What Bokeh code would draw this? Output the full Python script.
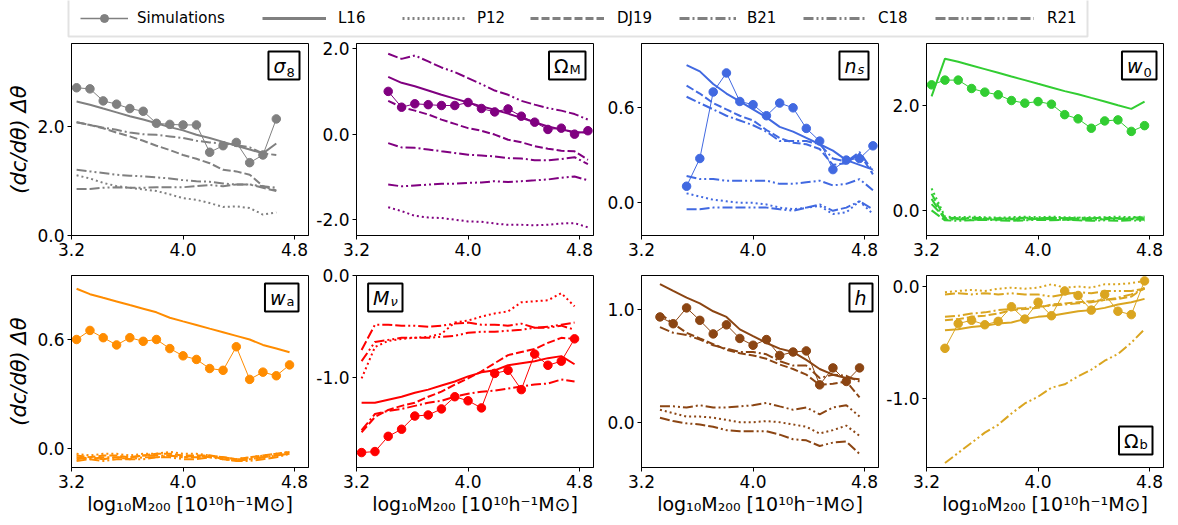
from bokeh.plotting import figure
from bokeh.layouts import column, row
from bokeh.models import (Range1d, FixedTicker, PrintfTickFormatter, Label,
                          Legend, LegendItem, BoxAnnotation)
from bokeh.embed import file_html
from bokeh.resources import INLINE

FONT = "DejaVu Sans"

# halo-mass bins (log10 M200 [1e10 h^-1 Msun])
LOG_M200 = [3.236, 3.332, 3.427, 3.523, 3.618, 3.714, 3.809, 3.905, 4.000,
            4.096, 4.191, 4.287, 4.382, 4.478, 4.573, 4.669, 4.764, 4.860]
X_TICKS = [3.2, 4.0, 4.8]

MODELS = ["L16", "P12", "DJ19", "B21", "C18", "R21"]

# ---- sigma_8 ----
SIGMA8_START = 0
SIGMA8_SIM = [2.70, 2.68, 2.46, 2.40, 2.32, 2.27, 2.05, 2.03, 2.02, 2.02, 1.52, 1.64, 1.70, 1.33, 1.47, 2.13]
SIGMA8_L16 = [2.45, 2.39, 2.32, 2.25, 2.18, 2.12, 2.05, 1.98, 1.92, 1.84, 1.78, 1.71, 1.64, 1.57, 1.50, 1.68]
SIGMA8_P12 = [1.10, 1.04, 0.96, 0.90, 0.87, 0.84, 0.81, 0.75, 0.68, 0.65, 0.59, 0.52, 0.53, 0.50, 0.38, 0.42]
SIGMA8_DJ19 = [2.07, 2.02, 1.96, 1.88, 1.81, 1.73, 1.64, 1.56, 1.47, 1.40, 1.32, 1.20, 1.17, 1.11, 0.90, 0.82]
SIGMA8_B21 = [2.07, 2.02, 1.97, 1.93, 1.88, 1.85, 1.84, 1.81, 1.78, 1.73, 1.70, 1.68, 1.65, 1.61, 1.50, 1.47]
SIGMA8_C18 = [1.20, 1.17, 1.14, 1.11, 1.09, 1.08, 1.06, 1.04, 1.01, 0.99, 0.98, 0.95, 0.93, 0.93, 0.90, 0.87]
SIGMA8_R21 = [0.85, 0.85, 0.87, 0.88, 0.87, 0.87, 0.88, 0.88, 0.88, 0.90, 0.92, 0.90, 0.93, 0.93, 0.87, 0.81]
SIGMA8_YTICKS = [0.0, 2.0]

# ---- Omega_M ----
OMEGAM_START = 2
OMEGAM_SIM = [1.00, 0.63, 0.71, 0.69, 0.67, 0.67, 0.74, 0.60, 0.52, 0.59, 0.42, 0.28, 0.11, 0.14, 0.00, 0.08]
OMEGAM_L16 = [1.34, 1.20, 1.12, 1.02, 0.92, 0.83, 0.74, 0.65, 0.57, 0.48, 0.38, 0.28, 0.18, 0.11, 0.05, 0.03]
OMEGAM_P12 = [-1.71, -1.80, -1.91, -1.95, -1.96, -2.00, -2.04, -2.05, -2.09, -2.12, -2.12, -2.13, -2.12, -2.09, -2.08, -2.18]
OMEGAM_DJ19 = [0.78, 0.63, 0.55, 0.46, 0.34, 0.24, 0.14, 0.08, -0.01, -0.13, -0.19, -0.28, -0.34, -0.39, -0.40, -0.60]
OMEGAM_B21 = [-0.21, -0.31, -0.32, -0.36, -0.40, -0.44, -0.48, -0.50, -0.52, -0.56, -0.57, -0.61, -0.61, -0.58, -0.54, -0.70]
OMEGAM_C18 = [-1.18, -1.22, -1.20, -1.18, -1.16, -1.16, -1.14, -1.13, -1.10, -1.12, -1.10, -1.08, -1.06, -1.02, -0.99, -1.08]
OMEGAM_R21 = [1.88, 1.76, 1.84, 1.70, 1.56, 1.45, 1.31, 1.17, 1.02, 0.92, 0.78, 0.69, 0.61, 0.55, 0.47, 0.34]
OMEGAM_YTICKS = [-2.0, 0.0, 2.0]

# ---- n_s ----
NS_START = 3
NS_SIM = [0.105, 0.28, 0.70, 0.82, 0.64, 0.62, 0.55, 0.63, 0.60, 0.47, 0.39, 0.21, 0.27, 0.28, 0.36]
NS_L16 = [0.87, 0.83, 0.75, 0.69, 0.64, 0.59, 0.54, 0.48, 0.45, 0.41, 0.37, 0.33, 0.27, 0.24, 0.21]
NS_P12 = [0.06, 0.04, 0.02, 0.01, 0.00, 0.00, -0.01, -0.03, -0.04, -0.03, -0.02, -0.07, -0.06, 0.01, -0.07]
NS_DJ19 = [0.74, 0.69, 0.63, 0.59, 0.55, 0.52, 0.46, 0.41, 0.38, 0.37, 0.34, 0.24, 0.25, 0.31, 0.18]
NS_B21 = [0.67, 0.63, 0.59, 0.55, 0.52, 0.49, 0.45, 0.39, 0.39, 0.39, 0.37, 0.28, 0.26, 0.32, 0.20]
NS_C18 = [0.17, 0.15, 0.15, 0.14, 0.14, 0.14, 0.14, 0.12, 0.12, 0.13, 0.14, 0.11, 0.12, 0.15, 0.08]
NS_R21 = [-0.04, -0.04, -0.03, -0.03, -0.03, -0.03, -0.03, -0.04, -0.05, -0.03, -0.01, -0.05, -0.03, 0.01, -0.04]
NS_YTICKS = [0.0, 0.6]

# ---- w_0 ----
W0_START = 0
W0_SIM = [2.40, 2.49, 2.49, 2.33, 2.26, 2.21, 2.10, 2.05, 2.08, 2.03, 1.83, 1.75, 1.57, 1.71, 1.73, 1.51, 1.62]
W0_L16 = [2.18, 2.90, 2.84, 2.77, 2.70, 2.63, 2.56, 2.49, 2.42, 2.35, 2.28, 2.22, 2.15, 2.08, 2.01, 1.94, 2.08]
W0_P12 = [0.42, -0.12, -0.13, -0.12, -0.13, -0.14, -0.13, -0.12, -0.13, -0.12, -0.13, -0.14, -0.13, -0.13, -0.12, -0.13, -0.12]
W0_DJ19 = [0.32, -0.15, -0.16, -0.15, -0.16, -0.15, -0.16, -0.15, -0.16, -0.14, -0.15, -0.16, -0.15, -0.14, -0.15, -0.16, -0.15]
W0_B21 = [0.22, -0.18, -0.17, -0.18, -0.17, -0.18, -0.17, -0.18, -0.16, -0.17, -0.18, -0.17, -0.18, -0.17, -0.16, -0.17, -0.18]
W0_C18 = [0.12, -0.14, -0.15, -0.14, -0.15, -0.16, -0.15, -0.14, -0.15, -0.14, -0.15, -0.14, -0.15, -0.16, -0.15, -0.14, -0.13]
W0_R21 = [0.00, -0.19, -0.20, -0.19, -0.18, -0.19, -0.20, -0.19, -0.18, -0.19, -0.18, -0.19, -0.20, -0.19, -0.20, -0.19, -0.20]
W0_YTICKS = [0.0, 2.0]

# ---- w_a ----
WA_START = 0
WA_SIM = [0.60, 0.65, 0.61, 0.57, 0.61, 0.59, 0.60, 0.55, 0.51, 0.49, 0.44, 0.43, 0.56, 0.38, 0.42, 0.40, 0.46]
WA_L16 = [0.88, 0.85, 0.83, 0.81, 0.79, 0.77, 0.75, 0.72, 0.70, 0.68, 0.66, 0.64, 0.62, 0.60, 0.57, 0.55, 0.53]
WA_P12 = [-0.03, -0.04, -0.03, -0.03, -0.04, -0.03, -0.03, -0.02, -0.03, -0.03, -0.04, -0.05, -0.06, -0.05, -0.04, -0.03, -0.02]
WA_DJ19 = [-0.04, -0.05, -0.04, -0.04, -0.05, -0.04, -0.03, -0.03, -0.04, -0.04, -0.04, -0.05, -0.06, -0.05, -0.04, -0.03, -0.02]
WA_B21 = [-0.05, -0.06, -0.05, -0.05, -0.05, -0.04, -0.04, -0.04, -0.05, -0.04, -0.05, -0.05, -0.06, -0.06, -0.05, -0.04, -0.03]
WA_C18 = [-0.06, -0.05, -0.06, -0.05, -0.06, -0.05, -0.05, -0.04, -0.05, -0.05, -0.04, -0.06, -0.07, -0.06, -0.05, -0.04, -0.03]
WA_R21 = [-0.07, -0.06, -0.07, -0.06, -0.06, -0.06, -0.05, -0.05, -0.06, -0.06, -0.05, -0.06, -0.07, -0.07, -0.06, -0.05, -0.03]
WA_YTICKS = [0.0, 0.6]

# ---- M_nu ----
MNU_START = 0
MNU_SIM = [-1.74, -1.73, -1.58, -1.51, -1.38, -1.37, -1.31, -1.19, -1.23, -1.30, -0.96, -0.93, -1.12, -0.77, -0.88, -0.84, -0.62]
MNU_L16 = [-1.25, -1.25, -1.22, -1.19, -1.15, -1.12, -1.08, -1.04, -0.99, -0.95, -0.93, -0.88, -0.86, -0.84, -0.81, -0.79, -0.87]
MNU_P12 = [-1.01, -0.70, -0.64, -0.62, -0.61, -0.60, -0.57, -0.46, -0.44, -0.40, -0.37, -0.35, -0.26, -0.25, -0.24, -0.17, -0.30]
MNU_DJ19 = [-1.54, -1.39, -1.32, -1.28, -1.25, -1.19, -1.14, -1.07, -1.01, -0.94, -0.86, -0.78, -0.75, -0.72, -0.66, -0.61, -0.62]
MNU_B21 = [-1.52, -1.36, -1.33, -1.31, -1.28, -1.25, -1.23, -1.19, -1.16, -1.14, -1.13, -1.11, -1.09, -1.07, -1.06, -1.02, -1.04]
MNU_C18 = [-0.84, -0.65, -0.63, -0.61, -0.61, -0.61, -0.60, -0.59, -0.56, -0.55, -0.55, -0.54, -0.53, -0.51, -0.51, -0.49, -0.53]
MNU_R21 = [-0.73, -0.48, -0.48, -0.49, -0.49, -0.50, -0.49, -0.47, -0.46, -0.48, -0.48, -0.49, -0.47, -0.51, -0.50, -0.48, -0.46]
MNU_YTICKS = [-1.0, 0.0]

# ---- h ----
H_START = 1
H_SIM = [0.93, 0.87, 1.01, 0.90, 0.78, 0.86, 0.74, 0.68, 0.73, 0.59, 0.62, 0.63, 0.33, 0.48, 0.36, 0.48]
H_L16 = [1.22, 1.16, 1.10, 1.05, 0.98, 0.93, 0.82, 0.76, 0.70, 0.65, 0.62, 0.55, 0.47, 0.42, 0.39, 0.38]
H_P12 = [0.11, 0.08, 0.05, 0.05, 0.04, 0.02, 0.00, 0.00, 0.01, 0.00, -0.02, -0.04, -0.10, -0.07, -0.03, -0.12]
H_DJ19 = [0.96, 0.87, 0.79, 0.74, 0.69, 0.64, 0.61, 0.59, 0.56, 0.51, 0.47, 0.42, 0.33, 0.34, 0.36, 0.22]
H_B21 = [0.84, 0.79, 0.77, 0.73, 0.68, 0.65, 0.62, 0.62, 0.60, 0.54, 0.50, 0.50, 0.39, 0.42, 0.41, 0.36]
H_C18 = [0.14, 0.14, 0.13, 0.15, 0.13, 0.13, 0.14, 0.15, 0.17, 0.14, 0.11, 0.13, 0.07, 0.13, 0.15, 0.05]
H_R21 = [0.04, 0.01, -0.01, -0.02, -0.04, -0.07, -0.08, -0.08, -0.08, -0.11, -0.15, -0.16, -0.21, -0.18, -0.17, -0.28]
H_YTICKS = [0.0, 1.0]

# ---- Omega_b ----
OMEGAB_START = 1
OMEGAB_SIM = [-0.55, -0.33, -0.30, -0.34, -0.31, -0.18, -0.29, -0.14, -0.26, -0.04, -0.08, -0.21, -0.07, -0.22, -0.25, 0.05]
OMEGAB_L16 = [-0.39, -0.38, -0.36, -0.35, -0.33, -0.32, -0.29, -0.27, -0.26, -0.24, -0.22, -0.21, -0.19, -0.16, -0.14, -0.11]
OMEGAB_P12 = [-0.05, -0.04, -0.03, -0.04, -0.02, -0.01, -0.02, -0.01, 0.02, -0.01, 0.00, -0.01, 0.02, 0.02, 0.03, 0.05]
OMEGAB_DJ19 = [-0.30, -0.29, -0.27, -0.26, -0.24, -0.21, -0.20, -0.19, -0.16, -0.15, -0.14, -0.13, -0.12, -0.11, -0.09, -0.01]
OMEGAB_B21 = [-0.27, -0.26, -0.24, -0.23, -0.21, -0.20, -0.19, -0.18, -0.17, -0.16, -0.15, -0.14, -0.12, -0.10, -0.07, -0.02]
OMEGAB_C18 = [-1.57, -1.48, -1.39, -1.30, -1.23, -1.13, -1.04, -0.98, -0.90, -0.87, -0.80, -0.74, -0.66, -0.60, -0.50, -0.38]
OMEGAB_R21 = [-0.07, -0.06, -0.07, -0.06, -0.07, -0.06, -0.07, -0.07, -0.09, -0.07, -0.05, -0.06, -0.04, -0.04, -0.04, -0.02]
OMEGAB_YTICKS = [-1.0, 0.0]

DASHES = {"L16": "solid", "P12": "2 3", "DJ19": "8 3", "B21": "10 3 2 3",
          "C18": "10 3 2 3 2 3", "R21": "10 3 10 3 2 3 2 3"}

# tag = (symbol, subscript, symbol style, subscript style, right padding, box right, box top)
PANELS = [
    dict(color="#808080", start=SIGMA8_START, sim=SIGMA8_SIM,
         models=[SIGMA8_L16, SIGMA8_P12, SIGMA8_DJ19, SIGMA8_B21, SIGMA8_C18, SIGMA8_R21],
         ylim=(-0.003, 3.51), yticks=SIGMA8_YTICKS,
         tag=("σ", "8", "italic", "normal", 14, 228, 184)),
    dict(color="#800080", start=OMEGAM_START, sim=OMEGAM_SIM,
         models=[OMEGAM_L16, OMEGAM_P12, OMEGAM_DJ19, OMEGAM_B21, OMEGAM_C18, OMEGAM_R21],
         ylim=(-2.37, 2.12), yticks=OMEGAM_YTICKS,
         tag=("Ω", "M", "normal", "normal", 17, 229, 184)),
    dict(color="#4169E1", start=NS_START, sim=NS_SIM,
         models=[NS_L16, NS_P12, NS_DJ19, NS_B21, NS_C18, NS_R21],
         ylim=(-0.206, 1.006), yticks=NS_YTICKS,
         tag=("n", "s", "italic", "italic", 12, 227, 184)),
    dict(color="#32CD32", start=W0_START, sim=W0_SIM,
         models=[W0_L16, W0_P12, W0_DJ19, W0_B21, W0_C18, W0_R21],
         ylim=(-0.48, 3.19), yticks=W0_YTICKS,
         tag=("w", "0", "italic", "normal", 14, 230, 184)),
    dict(color="#FF8C00", start=WA_START, sim=WA_SIM,
         models=[WA_L16, WA_P12, WA_DJ19, WA_B21, WA_C18, WA_R21],
         ylim=(-0.106, 0.953), yticks=WA_YTICKS,
         tag=("w", "a", "italic", "normal", 13, 227, 184)),
    dict(color="#FF0000", start=MNU_START, sim=MNU_SIM,
         models=[MNU_L16, MNU_P12, MNU_DJ19, MNU_B21, MNU_C18, MNU_R21],
         ylim=(-1.887, 0.004), yticks=MNU_YTICKS,
         tag=("M", "ν", "italic", "italic", 13, 46, 184)),
    dict(color="#8B4513", start=H_START, sim=H_SIM,
         models=[H_L16, H_P12, H_DJ19, H_B21, H_C18, H_R21],
         ylim=(-0.40, 1.296), yticks=H_YTICKS,
         tag=("h", "", "italic", "normal", 6, 231, 184)),
    dict(color="#DAA520", start=OMEGAB_START, sim=OMEGAB_SIM,
         models=[OMEGAB_L16, OMEGAB_P12, OMEGAB_DJ19, OMEGAB_B21, OMEGAB_C18, OMEGAB_R21],
         ylim=(-1.61, 0.098), yticks=OMEGAB_YTICKS,
         tag=("Ω", "b", "normal", "normal", 14, 226, 41)),
]

FRAME_W, FRAME_H = 237, 192
Y_LABEL = "(dc/dθ) Δθ"
X_LABEL = "log₁₀M₂₀₀ [10¹⁰h⁻¹M⊙]"


def add_tag(p, tag):
    sym, sub, sym_style, sub_style, pad_r, xr, ytop = tag
    p.add_layout(Label(x=xr, y=ytop, x_units="screen", y_units="screen",
                       text=sym, text_font=FONT, text_font_size="19px",
                       text_font_style=sym_style, text_align="right",
                       text_baseline="top", text_color="black",
                       border_line_color="black", border_line_width=2,
                       background_fill_color="white",
                       padding=dict(left=5, right=pad_r, top=3, bottom=3)))
    if sub:
        p.add_layout(Label(x=xr - pad_r + 1, y=ytop - 25, x_units="screen", y_units="screen",
                           text=sub, text_font=FONT, text_font_size="13px",
                           text_font_style=sub_style, text_align="left",
                           text_baseline="bottom", text_color="black"))


def make_panel(i, pc):
    r, c = divmod(i, 4)
    left = 71 if c == 0 else 44
    top = 3 if r == 0 else 8
    bottom = 32 if r == 0 else 58
    p = figure(width=left + FRAME_W + 4, height=top + FRAME_H + bottom,
               x_range=Range1d(3.1995, 4.9), y_range=Range1d(*pc["ylim"]),
               min_border_left=left, min_border_right=4,
               min_border_top=top, min_border_bottom=bottom,
               toolbar_location=None, output_backend="svg", title=None)
    p.xgrid.visible = False
    p.ygrid.visible = False
    p.outline_line_color = "black"
    p.outline_line_width = 1
    p.background_fill_color = "white"
    p.border_fill_color = "white"

    p.xaxis.ticker = FixedTicker(ticks=X_TICKS, minor_ticks=[])
    p.yaxis.ticker = FixedTicker(ticks=pc["yticks"], minor_ticks=[])
    p.xaxis.formatter = PrintfTickFormatter(format="%.1f")
    p.yaxis.formatter = PrintfTickFormatter(format="%.1f")
    for ax in (p.xaxis[0], p.yaxis[0]):
        ax.axis_line_color = "black"
        ax.major_tick_line_color = "black"
        ax.major_tick_in = 0
        ax.major_tick_out = 4
        ax.minor_tick_line_color = None
        ax.major_label_text_font = FONT
        ax.major_label_text_font_size = "17px"
        ax.major_label_text_color = "black"
        ax.major_label_standoff = 3
        ax.axis_label_text_font = FONT
        ax.axis_label_text_font_size = "19px"
        ax.axis_label_text_color = "black"
    if c == 0:
        p.yaxis.axis_label = Y_LABEL
        p.yaxis.axis_label_text_font_style = "italic"
        p.yaxis.axis_label_text_font_size = "21px"
        p.yaxis.axis_label_standoff = 3
    if r == 1:
        p.xaxis.axis_label = X_LABEL
        p.xaxis.axis_label_text_font_style = "normal"
        p.xaxis.axis_label_standoff = 2

    s = pc["start"]
    color = pc["color"]
    for name, vals in zip(MODELS, pc["models"]):
        xs = LOG_M200[s:s + len(vals)]
        p.line(xs, vals, line_color=color, line_width=2, line_dash=DASHES[name])
    xs = LOG_M200[s:s + len(pc["sim"])]
    p.line(xs, pc["sim"], line_color=color, line_width=1)
    p.scatter(xs, pc["sim"], size=8.5, fill_color=color, line_color=color)
    add_tag(p, pc["tag"])
    return p


panels = [make_panel(i, pc) for i, pc in enumerate(PANELS)]

# ---- shared legend strip ----
LEGEND_GREY = "#808080"
leg = figure(width=1178, height=40, x_range=Range1d(0, 1178), y_range=Range1d(0, 40),
             min_border=0, toolbar_location=None, output_backend="svg", title=None,
             x_axis_location=None, y_axis_location=None)
leg.xgrid.visible = False
leg.ygrid.visible = False
leg.outline_line_color = None
leg.add_layout(BoxAnnotation(left=68, right=1087, bottom=4, top=60, fill_alpha=0,
                             line_color="#a0a0a0", line_width=2))

# (left edge, glyph width, label standoff) of each legend entry
LEGEND_SLOTS = [(80, 48, 9), (262, 64, 12), (402, 64, 11), (530, 74, 13),
                (679, 57, 11), (803, 63, 12), (935, 99, 13)]

# legend-only renderers: a single NaN sample keeps them invisible in the strip
NAN = float("nan")
entries = []
sim_line = leg.line([NAN], [NAN], line_color=LEGEND_GREY, line_width=1.5)
sim_dot = leg.scatter([NAN], [NAN], size=10, fill_color=LEGEND_GREY, line_color=LEGEND_GREY)
entries.append(("Simulations", [sim_line, sim_dot]))
for name in MODELS:
    r_ = leg.line([NAN], [NAN], line_color=LEGEND_GREY, line_width=3, line_dash=DASHES[name])
    entries.append((name, [r_]))

for (label, rends), (x0, gw, so) in zip(entries, LEGEND_SLOTS):
    leg.add_layout(Legend(items=[LegendItem(label=label, renderers=rends)],
                          location=(x0, 12), orientation="horizontal",
                          glyph_width=gw, glyph_height=20, label_height=20,
                          label_standoff=so, padding=0, margin=0,
                          border_line_color=None, background_fill_alpha=0,
                          label_text_font=FONT, label_text_font_size="15px",
                          label_text_color="black"))

layout = column(leg, row(*panels[:4]), row(*panels[4:]))

with open("out.html", "w") as f:
    f.write(file_html(layout, INLINE))
